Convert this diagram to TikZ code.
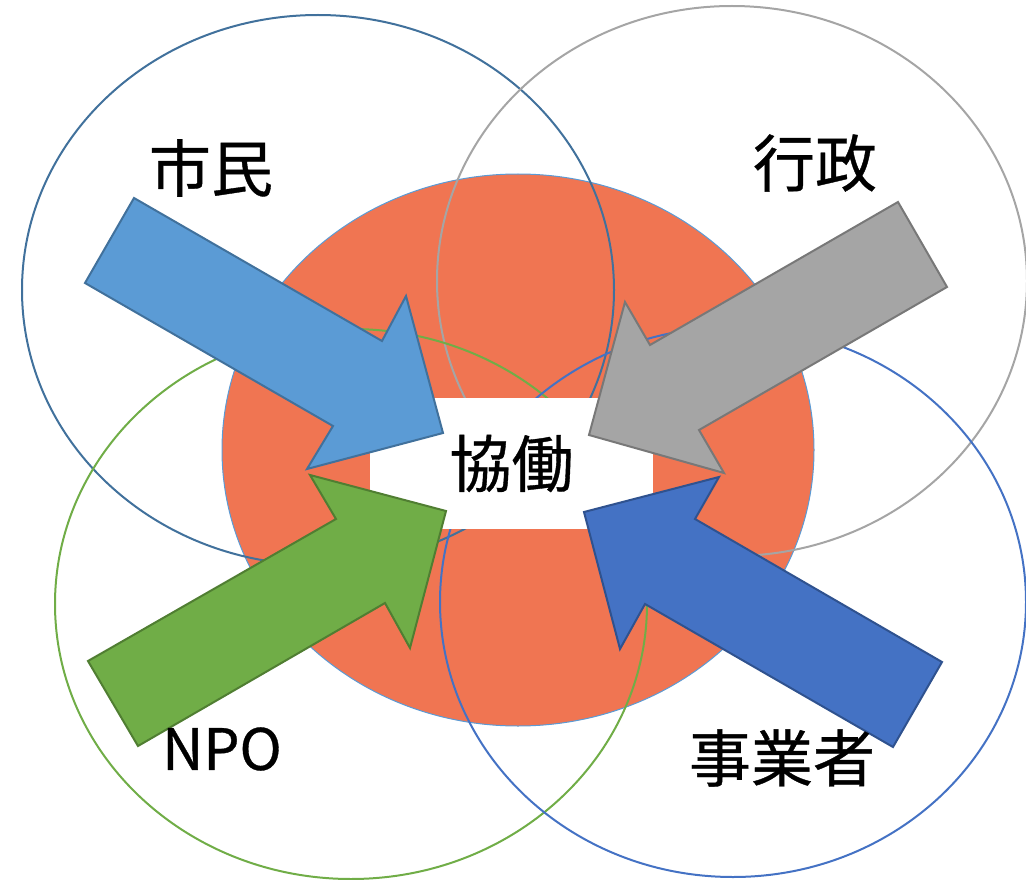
\documentclass[tikz,border=0pt]{standalone}
\usepackage{fontspec}
\newfontfamily\jp[FakeBold=0.6]{Noto Sans CJK JP}
\definecolor{ringA}{HTML}{41719C}
\definecolor{ringB}{HTML}{A5A5A5}
\definecolor{ringC}{HTML}{70AD47}
\definecolor{ringD}{HTML}{4472C4}
\definecolor{coreFill}{RGB}{240,117,82}
\definecolor{coreLine}{HTML}{5B9BD5}
\definecolor{arrA}{HTML}{5B9BD5}
\definecolor{arrAline}{HTML}{41719C}
\definecolor{arrB}{HTML}{A5A5A5}
\definecolor{arrBline}{HTML}{787878}
\definecolor{arrC}{HTML}{70AD47}
\definecolor{arrCline}{HTML}{507E32}
\definecolor{arrD}{HTML}{4472C4}
\definecolor{arrDline}{HTML}{2F528F}
\begin{document}
\begin{tikzpicture}[x=1pt,y=-1pt,
  ring/.style={line width=2pt},
  blockarrow/.style={line width=2pt, line join=miter},
  label/.style={font=\jp\fontsize{62}{62}\selectfont, inner sep=0pt, text=black}]
\useasboundingbox (0,0) rectangle (1026,880);
\clip (0,0) rectangle (1026,880);
% central orange disc
\path[fill=coreFill, draw=coreLine, line width=1pt] (518,450) ellipse [x radius=296, y radius=276];
% four rings
\draw[ring, ringA] (318,290) ellipse [x radius=296, y radius=275];
\draw[ring, ringB] (732,281) ellipse [x radius=295, y radius=275];
\draw[ring, ringC] (351,604) ellipse [x radius=296, y radius=275];
\draw[ring, ringD] (733,602) ellipse [x radius=293, y radius=275];
% white centre box
\node[fill=white, minimum width=283pt, minimum height=131pt, inner sep=0pt] (box) at (511.5,463.5) {};
% arrows
\draw[blockarrow, fill=arrA, draw=arrAline] (134,198) -- (382,341) -- (406,296) -- (443,433) -- (307,469) -- (333,426) -- (85,283) -- cycle;
\draw[blockarrow, fill=arrB, draw=arrBline] (898,202) -- (650,345) -- (625,302) -- (589,435) -- (724,473) -- (699,430) -- (947,287) -- cycle;
\draw[blockarrow, fill=arrC, draw=arrCline] (88,661) -- (336,519) -- (310,475) -- (446,511) -- (410,648) -- (385,603) -- (138,746) -- cycle;
\draw[blockarrow, fill=arrD, draw=arrDline] (942,662) -- (695,519) -- (719,477) -- (584,512) -- (620,649) -- (645,604) -- (893,747) -- cycle;
% labels
\node[label] (kyodo) at (box.center) {協働};
\node[label] (shimin) at (211,168) {市民};
\node[label] (gyosei) at (815,163) {行政};
\node[label, font=\jp\fontsize{57}{57}\selectfont] (npo) at (222,749) {NPO};
\node[label] (jigyo) at (782,758) {事業者};
\end{tikzpicture}
\end{document}
